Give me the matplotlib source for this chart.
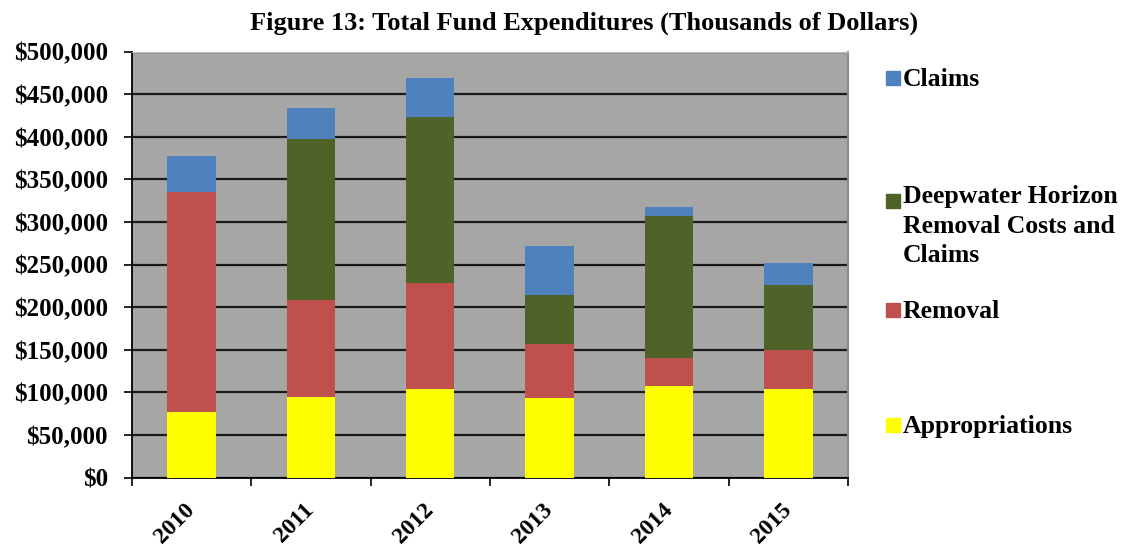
import matplotlib
matplotlib.use("Agg")
import matplotlib.pyplot as plt
from matplotlib.patches import Rectangle
from matplotlib.ticker import FuncFormatter
import numpy as np

years = ["2010", "2011", "2012", "2013", "2014", "2015"]
appropriations = [77000, 95000, 104000, 93000, 108000, 104000]
removal = [258000, 113000, 124000, 64000, 33000, 46000]
deepwater = [0, 189000, 195000, 58000, 166000, 76000]
claims = [42000, 37000, 46000, 57000, 11000, 26000]

series = [
    ("Appropriations", appropriations, "#FFFF00"),
    ("Removal", removal, "#C0504D"),
    ("Deepwater Horizon\nRemoval Costs and\nClaims", deepwater, "#4F6228"),
    ("Claims", claims, "#4F81BD"),
]

plt.rcParams['font.family'] = ['Liberation Serif', 'DejaVu Serif']

W, H = 1125, 548
fig = plt.figure(figsize=(W / 100, H / 100), dpi=100)
ax = fig.add_axes([0.117, 0.1283, 0.637, 0.7774])
ax.set_facecolor("#A6A6A6")

x = np.arange(len(years))
bottom = np.zeros(len(years))
for name, vals, col in series:
    ax.bar(x, vals, width=0.405, bottom=bottom, color=col, zorder=3, linewidth=0)
    bottom += np.array(vals)

ax.set_xlim(-0.5, len(years) - 0.5)
ax.set_ylim(0, 500000)
ax.set_yticks(np.arange(0, 500001, 50000))
ax.yaxis.set_major_formatter(FuncFormatter(lambda v, p: "${:,.0f}".format(v)))
ax.grid(axis="y", color="#1A1A1A", linewidth=1.6, zorder=1)
ax.set_axisbelow(True)

ax.set_xticks(x)
ax.set_xticklabels(years, rotation=45, fontsize=17, fontweight="bold",
                   ha="right", va="center", rotation_mode="anchor")
ax.set_xticks(np.arange(-0.5, len(years)), minor=True)
ax.tick_params(axis="x", which="major", length=0, pad=21)
ax.tick_params(axis="x", which="minor", length=6, width=1.2, direction="out", color="black")
ax.tick_params(axis="y", length=6, width=1.2, direction="out", labelsize=18, pad=11)
for lab in ax.get_yticklabels():
    lab.set_fontweight("bold")

for s in ["left", "bottom"]:
    ax.spines[s].set_color("black")
    ax.spines[s].set_linewidth(1.3)
ax.spines["top"].set_color("#BFBFBF")
ax.spines["right"].set_color("#8C8C8C")
ax.spines["right"].set_linewidth(1.5)

fig.text(584 / W, 1 - 30 / H, "Figure 13: Total Fund Expenditures (Thousands of Dollars)",
         ha="center", va="baseline", fontsize=19, fontweight="bold")

# legend (manual placement; marker baseline and last-line baseline in pixels)
leg_items = [
    ("Claims", "#4F81BD", 86, 86),
    ("Deepwater Horizon\nRemoval Costs and\nClaims", "#4F6228", 209, 262),
    ("Removal", "#C0504D", 318, 318),
    ("Appropriations", "#FFFF00", 433, 433),
]
for name, col, ymark, ybase in leg_items:
    fig.patches.append(Rectangle((886 / W, 1 - (ymark - 1) / H), 14 / W, 14 / H,
                                 transform=fig.transFigure, color=col, figure=fig))
    fig.text(903 / W, 1 - ybase / H, name, ha="left", va="baseline",
             fontsize=18.5, fontweight="bold", linespacing=1.35)

fig.savefig("out.png", dpi=100)
